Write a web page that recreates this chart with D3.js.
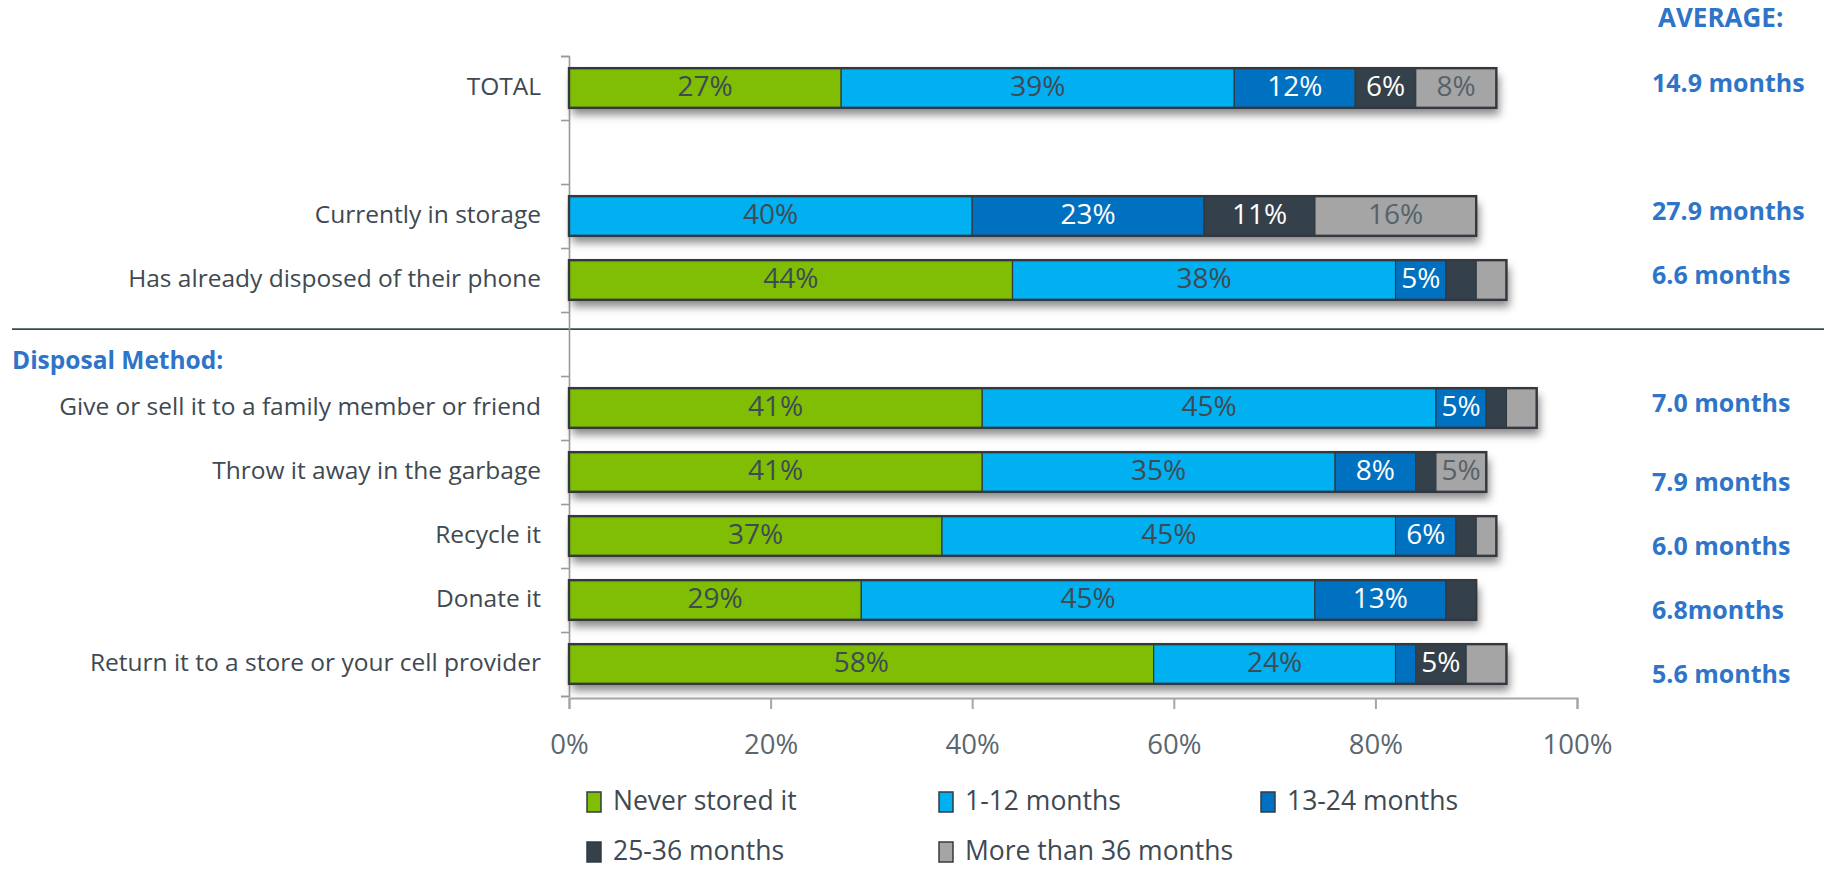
<!DOCTYPE html>
<html>
<head>
<meta charset="utf-8">
<script src="https://cdn.jsdelivr.net/npm/d3@7"></script>
<style>
  html, body { margin: 0; padding: 0; background: #ffffff; }
  svg { display: block; }
  text { font-family: "Open Sans", "Noto Sans", sans-serif; }
</style>
</head>
<body>
<svg id="chart" width="1824" height="873"></svg>
<script>
// ---------- DATA ----------
const slots = ["TOTAL", "gap-1", "Currently in storage", "Has already disposed of their phone", "gap-2",
  "Give or sell it to a family member or friend", "Throw it away in the garbage", "Recycle it",
  "Donate it", "Return it to a store or your cell provider"];
const categories = ["TOTAL", "Currently in storage", "Has already disposed of their phone",
  "Give or sell it to a family member or friend", "Throw it away in the garbage", "Recycle it",
  "Donate it", "Return it to a store or your cell provider"];
const seriesNames = ["Never stored it", "1-12 months", "13-24 months", "25-36 months", "More than 36 months"];
const neverStored = [27, 0, 44, 41, 41, 37, 29, 58];
const months1to12 = [39, 40, 38, 45, 35, 45, 45, 24];
const months13to24 = [12, 23, 5, 5, 8, 6, 13, 2];
const months25to36 = [6, 11, 3, 2, 2, 2, 3, 5];
const moreThan36 = [8, 16, 3, 3, 5, 2, 0, 4];
const averages = ["14.9 months", "27.9 months", "6.6 months", "7.0 months", "7.9 months", "6.0 months", "6.8months", "5.6 months"];
const xTicks = [0, 20, 40, 60, 80, 100];
const sectionLabel = "Disposal Method:";
const averageTitle = "AVERAGE:";

// ---------- STYLE ----------
const colors = ["#7fbe02", "#00b0f0", "#0070c0", "#34414b", "#a5a5a5"];
const labelColors = ["#3e4b55", "#3e4b55", "#ffffff", "#ffffff", "#56626b"];
const textColor = "#3e4952";
const blue = "#2e74c9";

const svg = d3.select("#chart");
const defs = svg.append("defs");
const f = defs.append("filter").attr("id", "shadow")
  .attr("x", "-5%").attr("y", "-40%").attr("width", "115%").attr("height", "200%");
f.append("feDropShadow").attr("dx", 3).attr("dy", 7).attr("stdDeviation", 4)
  .attr("flood-color", "#000").attr("flood-opacity", 0.45);

const x = d3.scaleLinear().domain([0, 100]).range([569, 1577]);
const y = d3.scaleBand().domain(slots).range([56, 696]).paddingInner(0.38).paddingOuter(0.19);
const yIdx = d3.scaleLinear().domain([0, slots.length]).range([56, 696]);

const series = [neverStored, months1to12, months13to24, months25to36, moreThan36];
const rows = categories.map((c, i) => {
  let acc = 0;
  const segs = series.map((s, k) => {
    const seg = { k, v: s[i], x0: acc, x1: acc + s[i] };
    acc += s[i];
    return seg;
  });
  return { cat: c, segs, total: acc, avg: averages[i], i };
});

// separator line and section label
const gapY = y("gap-2");
svg.append("line").attr("x1", 12).attr("x2", 1824)
  .attr("y1", gapY + 5).attr("y2", gapY + 5)
  .attr("stroke", "#3b4852").attr("stroke-width", 1.6);
svg.append("text").attr("x", 12).attr("y", gapY + y.bandwidth() - 1)
  .attr("dominant-baseline", "middle")
  .attr("font-size", 24.5).attr("font-weight", "bold").attr("fill", blue)
  .text(sectionLabel);

// y axis (ticks at band boundaries)
const yAxis = d3.axisLeft(yIdx).tickValues(d3.range(slots.length + 1)).tickSize(8).tickFormat("");
const gy = svg.append("g").attr("transform", `translate(${x(0)},0)`).call(yAxis);
gy.select(".domain").attr("stroke", "#9a9a9a").attr("stroke-width", 1.6);
gy.selectAll(".tick line").attr("stroke", "#9a9a9a").attr("stroke-width", 1.6);

// bars
const barG = svg.append("g");
const rowG = barG.selectAll("g.row").data(rows).join("g").attr("class", "row")
  .attr("transform", d => `translate(0,${y(d.cat)})`);

rowG.append("rect")
  .attr("x", x(0)).attr("y", 0)
  .attr("width", d => x(d.total) - x(0)).attr("height", y.bandwidth())
  .attr("fill", "#ffffff").attr("filter", "url(#shadow)");

rowG.selectAll("rect.seg").data(d => d.segs.filter(s => s.v > 0)).join("rect").attr("class", "seg")
  .attr("x", s => x(s.x0)).attr("y", 0)
  .attr("width", s => x(s.x1) - x(s.x0)).attr("height", y.bandwidth())
  .attr("fill", s => colors[s.k]).attr("stroke", "#2f3a42").attr("stroke-width", 1.2);

rowG.append("rect")
  .attr("x", x(0)).attr("y", 0)
  .attr("width", d => x(d.total) - x(0)).attr("height", y.bandwidth())
  .attr("fill", "none").attr("stroke", "#33393e").attr("stroke-width", 2.4);

rowG.selectAll("text.val").data(d => d.segs.filter(s => s.v >= 5)).join("text").attr("class", "val")
  .attr("x", s => (x(s.x0) + x(s.x1)) / 2).attr("y", y.bandwidth() / 2 + 1)
  .attr("text-anchor", "middle").attr("dominant-baseline", "middle")
  .attr("font-size", 28).attr("fill", s => labelColors[s.k])
  .text(s => s.v + "%");

// category labels
svg.append("g").selectAll("text").data(rows).join("text")
  .attr("x", 541).attr("y", d => y(d.cat) + y.bandwidth() / 2)
  .attr("text-anchor", "end").attr("dominant-baseline", "middle")
  .attr("font-size", 24.5).attr("fill", textColor)
  .text(d => d.cat);

// averages (the text column sits slightly lower for the last four methods)
svg.append("text").attr("x", 1658).attr("y", 20)
  .attr("dominant-baseline", "middle")
  .attr("font-size", 26).attr("font-weight", "bold").attr("fill", blue)
  .text(averageTitle);
svg.append("g").selectAll("text").data(rows).join("text")
  .attr("x", 1652).attr("y", d => y(d.cat) + y.bandwidth() / 2 + (d.i >= 4 ? 12 : -3))
  .attr("dominant-baseline", "middle")
  .attr("font-size", 25).attr("font-weight", "bold").attr("fill", blue)
  .text(d => d.avg);

// x axis
const xAxis = d3.axisBottom(x).tickValues(xTicks).tickSize(11).tickPadding(25).tickFormat(d => d + "%");
const gx = svg.append("g").attr("transform", "translate(0,698)").call(xAxis);
gx.select(".domain").attr("stroke", "#a6a6a6").attr("stroke-width", 2);
gx.selectAll(".tick line").attr("stroke", "#a6a6a6").attr("stroke-width", 2);
gx.selectAll(".tick text").attr("font-size", 27.5).attr("fill", "#5b6770")
  .attr("font-family", "\"Open Sans\", sans-serif");

// legend
const legendPos = [[587, 802], [939, 802], [1261, 802], [587, 852], [939, 852]];
const lg = svg.append("g").selectAll("g").data(seriesNames).join("g")
  .attr("transform", (d, i) => `translate(${legendPos[i][0]},${legendPos[i][1]})`);
lg.append("rect").attr("x", 0).attr("y", -10).attr("width", 14).attr("height", 20)
  .attr("fill", (d, i) => colors[i]).attr("stroke", "#333b40").attr("stroke-width", 1.5);
lg.append("text").attr("x", 26).attr("y", 1).attr("dominant-baseline", "middle")
  .attr("font-size", 26.5).attr("fill", textColor).text(d => d);
</script>
</body>
</html>
